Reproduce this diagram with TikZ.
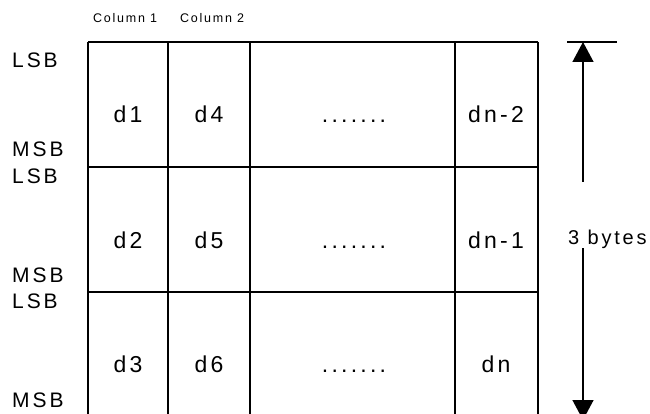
\documentclass[tikz,border=0pt]{standalone}
\usepackage{fontspec}
\setmainfont{Liberation Sans}[LetterSpace=14]
\usetikzlibrary{arrows.meta}
\tikzset{
  grid/.style={line width=1.4pt},
  cell/.style={anchor=base,inner sep=0pt,font=\fontsize{23}{23}\selectfont},
  bitlbl/.style={anchor=base west,inner sep=0pt,font=\fontsize{21}{21}\selectfont},
  collbl/.style={anchor=base west,inner sep=0pt,font=\fontsize{12.5}{12.5}\selectfont},
  dimline/.style={line width=1.4pt},
  dimarrow/.style={line width=1.4pt,-{Triangle[length=20pt,width=21pt]}}
}
\begin{document}
\begin{tikzpicture}[x=1pt,y=-1pt]
\useasboundingbox (0,0) rectangle (650,414);
\clip (0,0) rectangle (650,414);
% grid
\draw[grid] (88,42) -- (538,42);
\draw[grid] (88,167) -- (538,167);
\draw[grid] (88,292) -- (538,292);
\foreach \x in {88,168,250,455,538} \draw[grid] (\x,42) -- (\x,420);
% column labels
\node[collbl] (c1) at (93,23) {Column 1};
\node[collbl] (c2) at (180,23) {Column 2};
% LSB / MSB labels
\node[bitlbl] (l1) at (12,68) {LSB};
\node[bitlbl] (m1) at (12,157) {MSB};
\node[bitlbl] (l2) at (12,183) {LSB};
\node[bitlbl] (m2) at (12,282) {MSB};
\node[bitlbl] (l3) at (12,308) {LSB};
\node[bitlbl] (m3) at (12,407) {MSB};
% cells
\node[cell] (d1) at (128,123) {d1};
\node[cell] (d4) at (209,123) {d4};
\node[cell] (e1) at (354,123) {.......};
\node[cell] (dn2) at (496,123) {dn-2};
\node[cell] (d2) at (128,248) {d2};
\node[cell] (d5) at (209,248) {d5};
\node[cell] (e2) at (354,248) {.......};
\node[cell] (dn1) at (496,248) {dn-1};
\node[cell] (d3) at (128,372) {d3};
\node[cell] (d6) at (209,372) {d6};
\node[cell] (e3) at (354,372) {.......};
\node[cell] (dn) at (496,372) {dn};
% dimension
\node[bitlbl,font=\fontsize{20}{20}\selectfont] (bytes) at (568,244) {3 bytes};
\coordinate (tickL) at (567,42);
\coordinate (tickR) at (617,42);
\coordinate (upA) at (583,182);
\coordinate (upB) at (583,42);
\coordinate (dnA) at (583,248);
\coordinate (dnB) at (583,420);
\draw[dimline] (tickL) -- (tickR);
\draw[dimarrow] (upA) -- (upB);
\draw[dimarrow] (dnA) -- (dnB);
\end{tikzpicture}
\end{document}
